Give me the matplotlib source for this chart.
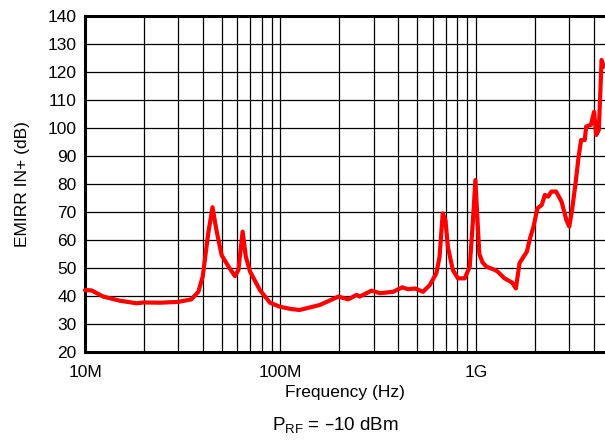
import matplotlib
matplotlib.use('Agg')
import matplotlib.pyplot as plt
from matplotlib.ticker import FixedLocator, NullFormatter

plt.rcParams['font.family'] = ['Liberation Sans', 'DejaVu Sans']

# frequency in MHz, EMIRR in dB
freq_mhz = [10, 10.8, 12.4, 15.1, 18.4, 20, 24.2, 30, 35, 38, 40, 42.7, 44.9, 47, 50,
            54.2, 58.5, 60.9, 64, 66.5, 69.9, 78.5, 88.4, 99, 112, 125, 159, 198, 222,
            245, 254, 292, 323, 377, 420, 450, 488, 536, 580, 627, 651, 676, 698, 718,
            761, 808, 876, 929, 965, 993, 1020, 1040, 1080, 1130, 1250, 1290, 1400, 1530,
            1600, 1670, 1750, 1820, 1890, 1970, 2060, 2170, 2250, 2340, 2430, 2570, 2740,
            2900, 3000, 3100, 3230, 3350, 3450, 3600, 3660, 3870, 4020, 4120, 4250, 4390,
            4500]
emirr_db = [42.1, 42, 39.8, 38.3, 37.4, 37.7, 37.6, 37.9, 38.8, 41.5, 46.9, 62.4, 71.7,
            63.6, 54.6, 50.5, 47.1, 49.3, 63.0, 54.0, 48.7, 42.1, 37.6, 36.2, 35.4, 35.0,
            36.8, 39.8, 38.8, 40.4, 39.8, 41.9, 41.0, 41.5, 43.1, 42.4, 42.7, 41.5, 43.9,
            48.1, 54.0, 69.5, 67.1, 57.6, 49.3, 46.3, 46.3, 50.5, 67.1, 81.4, 65.9, 55.0,
            52.0, 50.5, 49.3, 48.7, 46.3, 44.8, 42.7, 51.7, 54.0, 55.8, 60.6, 64.8, 71.3,
            72.5, 76.1, 75.5, 77.3, 77.3, 73.7, 67.1, 64.8, 70.7, 80.2, 89.8, 95.7, 95.7,
            100.5, 101.1, 105.8, 97.5, 99.3, 124.3, 121.9]

freq_hz = [f * 1e6 for f in freq_mhz]

xticks = [1e7, 1e8, 1e9]
xtick_labels = ['10M', '100M', '1G']
yticks = list(range(20, 141, 10))

fig = plt.figure(figsize=(6.05, 4.4), dpi=100)
ax = fig.add_axes([85 / 605, 88 / 440, 520 / 605, 336 / 440])

ax.plot(freq_hz, emirr_db, color='#ff0000', lw=3.0, solid_joinstyle='round',
        solid_capstyle='round', zorder=3, clip_on=False)

ax.set_xscale('log')
ax.set_xlim(1e7, 4.57e9)
ax.set_ylim(20, 140)

ax.set_xticks(xticks)
ax.set_xticklabels(xtick_labels)
minors = [m * 10 ** d for d in range(7, 10) for m in range(2, 10)]
ax.xaxis.set_minor_locator(FixedLocator(minors))
ax.xaxis.set_minor_formatter(NullFormatter())
ax.set_yticks(yticks)

ax.grid(True, which='both', color='black', lw=0.9)
ax.tick_params(which='both', length=0, labelsize=12.5)
ax.tick_params(axis='x', pad=9)
ax.tick_params(axis='y', pad=6)

for side in ['left', 'bottom', 'top']:
    ax.spines[side].set_linewidth(2.2)
ax.spines['right'].set_visible(False)

ax.set_xlabel('Frequency (Hz)', fontsize=12.5, labelpad=4)
ax.set_ylabel('EMIRR IN+ (dB)', fontsize=12.5, labelpad=13)

fig.text(335 / 605, 1 - 425 / 440, r'$\mathregular{P_{RF}}$ = –10 dBm',
         ha='center', va='center', fontsize=13.5)

fig.savefig('out.png', dpi=100)
